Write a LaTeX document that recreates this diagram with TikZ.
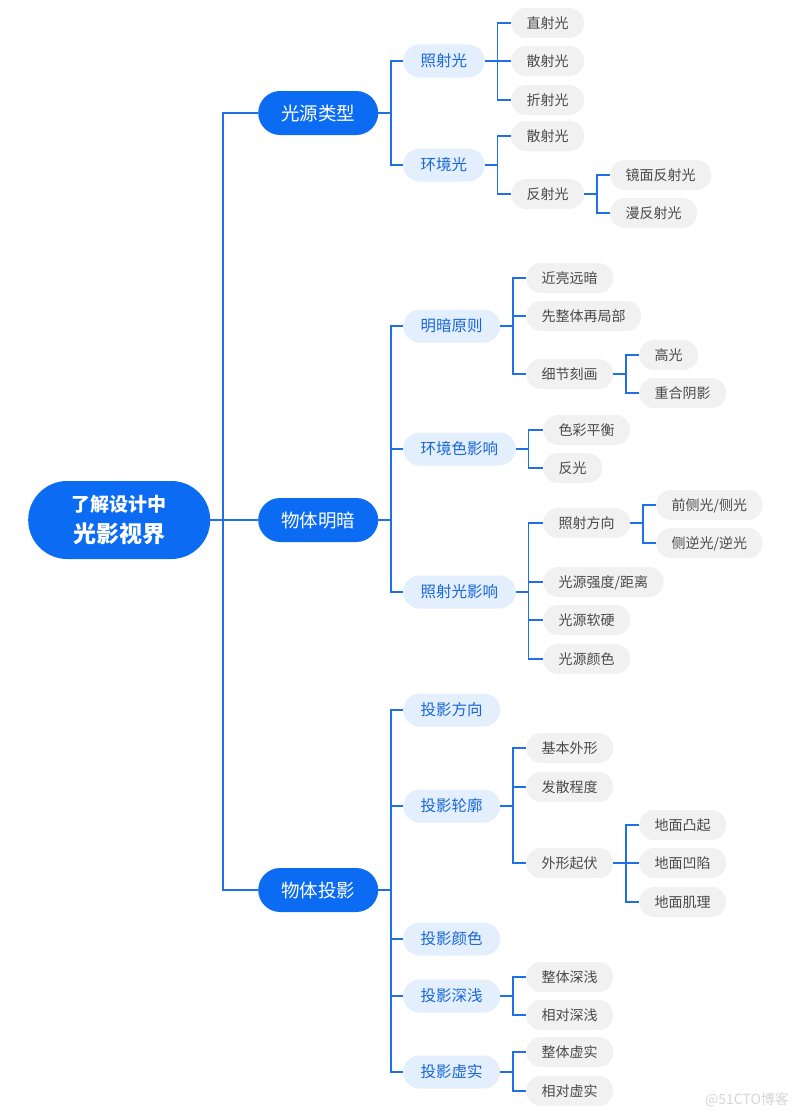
\documentclass[tikz,border=0pt]{standalone}
\usepackage{fontspec}
\setmainfont{Noto Sans CJK SC}
\usetikzlibrary{positioning}

\definecolor{mainblue}{HTML}{0B6CF3}
\definecolor{lineblue}{HTML}{1F6FE5}
\definecolor{paleblue}{HTML}{E4EFFD}
\definecolor{midtext}{HTML}{1866DA}
\definecolor{leaffill}{HTML}{F1F1F1}
\definecolor{leaftext}{HTML}{4A4A4A}
\definecolor{markgray}{HTML}{D6D6D6}

\tikzset{
    rootbox/.style={fill=mainblue, text=white, rounded corners=39pt, minimum width=182pt,
        minimum height=78pt, align=center, anchor=west, inner sep=0pt},
    topbox/.style={fill=mainblue, text=white, rounded corners=22pt, minimum height=44pt,
        inner xsep=23pt, inner ysep=0pt, anchor=west, text height=16.3pt, text depth=2.2pt,
        font=\fontsize{18.5}{20}\selectfont},
    midbox/.style={fill=paleblue, text=midtext, rounded corners=16.5pt, minimum height=33pt,
        inner xsep=17.5pt, inner ysep=0pt, anchor=west, text height=13.6pt, text depth=1.9pt,
        font=\fontsize{15.5}{18}\selectfont},
    leafbox/.style={fill=leaffill, text=leaftext, rounded corners=15pt, minimum height=30pt,
        inner xsep=15.5pt, inner ysep=0pt, anchor=west, text height=12.3pt, text depth=1.7pt,
        font=\fontsize{14}{16}\selectfont},
    link/.style={draw=lineblue, line width=1.6pt},
}

\begin{document}
\begin{tikzpicture}[x=1pt, y=-1pt]

        \useasboundingbox (0,0) rectangle (800,1116);
        \fill[white] (0,0) rectangle (800,1116);

        \node[rootbox, font=\fontsize{19}{26}\selectfont\bfseries] (root) at (28,520)
            {了解设计中\\[5pt]
             {\fontsize{23}{26}\selectfont 光影视界}};

        \node[topbox] (t1) at (258,113) {光源类型};
        \node[topbox] (t2) at (258,520) {物体明暗};
        \node[topbox] (t3) at (258,890) {物体投影};

        \foreach \n/\y/\t in {%
            a1/61/照射光,
            a2/165/环境光,
            b1/326/明暗原则,
            b2/449/环境色影响,
            b3/592/照射光影响,
            c1/710/投影方向,
            c2/806/投影轮廓,
            c3/939/投影颜色,
            c4/996/投影深浅,
            c5/1072/投影虚实%
        }{
            \node[midbox] (\n) at (403,\y) {\t};
        }

        \foreach \n/\x/\y/\t in {%
            a11/511/23/直射光,
            a12/511/61/散射光,
            a13/511/100/折射光,
            a21/511/136/散射光,
            a22/511/194/反射光,
            a221/610/175/镜面反射光,
            a222/610/213/漫反射光,
            b11/526/278/近亮远暗,
            b12/526/316/先整体再局部,
            b13/526/374/细节刻画,
            b131/639/355/高光,
            b132/639/393/重合阴影,
            b21/543/430/色彩平衡,
            b22/543/468/反光,
            b31/543/523/照射方向,
            b32/543/582/{光源强度/距离},
            b33/543/620/光源软硬,
            b34/543/659/光源颜色,
            b311/656/505/{前侧光/侧光},
            b312/656/543/{侧逆光/逆光},
            c21/526/748/基本外形,
            c22/526/787/发散程度,
            c23/526/863/外形起伏,
            c231/639/825/地面凸起,
            c232/639/863/地面凹陷,
            c233/639/902/地面肌理,
            c41/526/977/整体深浅,
            c42/526/1015/相对深浅,
            c51/526/1052/整体虚实,
            c52/526/1091/相对虚实%
        }{
            \node[leafbox] (\n) at (\x,\y) {\t};
        }

        \foreach \p/\c in {%
            root/t1, root/t2, root/t3,
            t1/a1, t1/a2,
            t2/b1, t2/b2, t2/b3,
            t3/c1, t3/c2, t3/c3, t3/c4, t3/c5,
            a1/a11, a1/a12, a1/a13,
            a2/a21, a2/a22,
            a22/a221, a22/a222,
            b1/b11, b1/b12, b1/b13,
            b13/b131, b13/b132,
            b2/b21, b2/b22,
            b3/b31, b3/b32, b3/b33, b3/b34,
            b31/b311, b31/b312,
            c2/c21, c2/c22, c2/c23,
            c23/c231, c23/c232, c23/c233,
            c4/c41, c4/c42,
            c5/c51, c5/c52%
        }{
            \draw[link] (\p.east) -- ++(12.5,0) |- (\c.west);
        }

        \node[text=markgray, font=\fontsize{14}{16}\selectfont] (mark) at (747,1100) {@51CTO博客};

    \end{tikzpicture}
\end{document}
